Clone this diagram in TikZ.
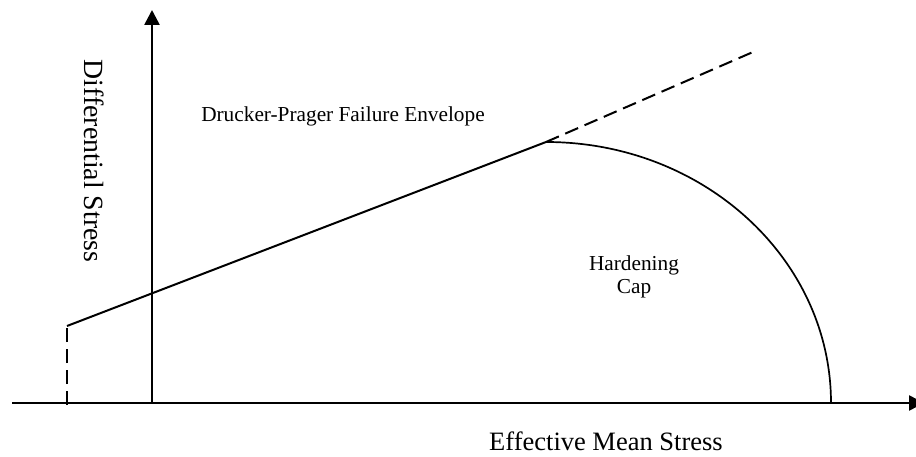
\documentclass[tikz,border=0pt]{standalone}
\usepackage{fontspec}
\setmainfont{Liberation Serif}
\usetikzlibrary{arrows.meta}
\begin{document}
\begin{tikzpicture}[x=1pt,y=1pt,
  axis/.style={line width=2.6pt,-{Triangle[length=15pt,width=15pt]}},
  envelope/.style={line width=2pt},
  extension/.style={line width=2pt,dash pattern=on 14pt off 7pt},
  caparc/.style={line width=1.7pt},
  biglabel/.style={font=\fontsize{26.5}{30}\selectfont,inner sep=0pt},
  smalllabel/.style={font=\fontsize{21.3}{25}\selectfont,inner sep=0pt}]
  \useasboundingbox (0,0) rectangle (916,456);

  % axes
  \coordinate (xl) at (12,53);
  \coordinate (xr) at (924,53);
  \coordinate (o) at (152,53);
  \coordinate (yt) at (152,446);
  \draw[axis] (xl) -- (xr);
  \draw[axis] (o) -- (yt);

  % Drucker-Prager envelope with tension cut-off and cap
  \coordinate (cutbase) at (67,51);
  \coordinate (cuttop) at (67,130);
  \coordinate (apex) at (546,314);
  \coordinate (extend) at (753,404);
  \coordinate (capfoot) at (831,53);
  \draw[extension] (cutbase) -- (cuttop);
  \draw[envelope] (cuttop) -- (apex);
  \draw[extension] (apex) -- (extend);
  \draw[caparc] (apex) arc[start angle=90,end angle=0,x radius=285,y radius=261];

  % labels
  \node[biglabel,anchor=base] (xlab) at (606,6) {Effective Mean Stress};
  \node[biglabel,font=\fontsize{27.8}{31}\selectfont,anchor=base,rotate=-90] (ylab) at (84,295) {Differential Stress};
  \node[smalllabel,anchor=base] (dp) at (343,334) {Drucker-Prager Failure Envelope};
  \node[smalllabel,anchor=base] (hard1) at (634,186) {Hardening};
  \node[smalllabel,anchor=base] (hard2) at (634,163) {Cap};
\end{tikzpicture}
\end{document}
